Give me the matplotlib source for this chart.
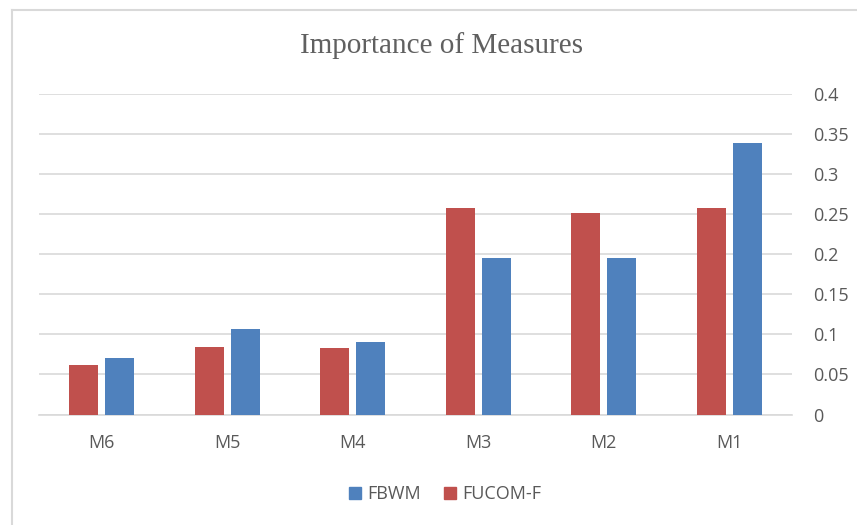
import matplotlib
matplotlib.use("Agg")
import matplotlib.pyplot as plt
from matplotlib.patches import Patch
from matplotlib.lines import Line2D
import numpy as np

categories = ["M6", "M5", "M4", "M3", "M2", "M1"]
fucom_f = [0.062, 0.084, 0.083, 0.257, 0.251, 0.258]
fbwm = [0.071, 0.106, 0.090, 0.195, 0.195, 0.338]
yticks = [0, 0.05, 0.1, 0.15, 0.2, 0.25, 0.3, 0.35, 0.4]
ytick_labels = ["0", "0.05", "0.1", "0.15", "0.2", "0.25", "0.3", "0.35", "0.4"]

RED = "#c0504d"
BLUE = "#4f81bd"
GRID = "#d9d9d9"
TXT = "#595959"
FONT = "Open Sans"
FS = 13

W, H = 857, 525
fig = plt.figure(figsize=(W/100, H/100), dpi=100)
ax = fig.add_axes([39/W, 1-414.5/H, (792-39)/W, (414.5-93.7)/H])

x = np.arange(len(categories))
w = 0.231
off = 0.143
ax.bar(x - off, fucom_f, width=w, color=RED, zorder=3, label="FUCOM-F")
ax.bar(x + off, fbwm, width=w, color=BLUE, zorder=3, label="FBWM")

ax.set_xlim(-0.5, len(categories) - 0.5)
ax.set_ylim(0, 0.4)
ax.set_yticks(yticks)
ax.set_yticklabels(ytick_labels)
ax.yaxis.tick_right()
ax.set_xticks(x)
ax.set_xticklabels(categories)
ax.tick_params(axis="both", length=0, labelsize=FS, labelcolor=TXT)
ax.tick_params(axis="x", pad=14)
ax.tick_params(axis="y", pad=15)
for lab in ax.get_xticklabels():
    lab.set_fontfamily(FONT)
for lab in ax.get_yticklabels():
    lab.set_fontfamily(FONT)
    lab.set_horizontalalignment("left")

ax.grid(axis="y", color=GRID, linewidth=1.2, zorder=0)
for s in ["top", "left", "right"]:
    ax.spines[s].set_visible(False)
ax.spines["bottom"].set_color(GRID)
ax.spines["bottom"].set_linewidth(1.2)

fig.text(441/W, 1-53/H, "Importance of Measures", ha="center", va="baseline",
         fontsize=21, color="#606060", family="Liberation Serif")

handles = [Patch(color=BLUE, label="FBWM"), Patch(color=RED, label="FUCOM-F")]
fig.legend(handles=handles, loc="center", bbox_to_anchor=(445/W, 1-494/H), ncol=2,
           frameon=False, handlelength=0.65, handleheight=0.65, handletextpad=0.35,
           columnspacing=1.3, prop={"family": FONT, "size": FS},
           labelcolor=TXT)

# outer chart border (left and top edges visible)
fig.add_artist(Line2D([12/W, 12/W], [0, 1-10/H], transform=fig.transFigure,
                      color=GRID, linewidth=1.5))
fig.add_artist(Line2D([12/W, 1], [1-10/H, 1-10/H], transform=fig.transFigure,
                      color=GRID, linewidth=1.5))

fig.savefig("out.png", dpi=100)
